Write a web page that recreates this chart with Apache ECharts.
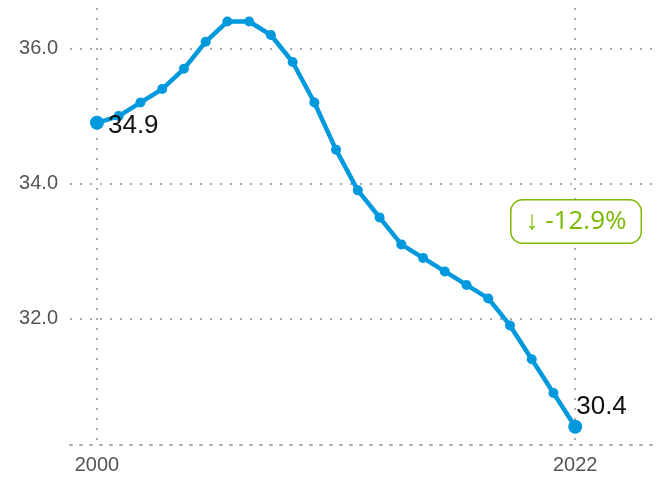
<!DOCTYPE html>
<html>
<head>
<meta charset="utf-8">
<script src="https://cdn.jsdelivr.net/npm/echarts@6/dist/echarts.min.js"></script>
<style>
  html, body { margin: 0; padding: 0; background: #fff; }
  #chart { width: 663px; height: 478px; }
</style>
</head>
<body>
<div id="chart"></div>
<script>
// data
const years = [2000, 2001, 2002, 2003, 2004, 2005, 2006, 2007, 2008, 2009, 2010,
  2011, 2012, 2013, 2014, 2015, 2016, 2017, 2018, 2019, 2020, 2021, 2022]
const values = [34.9, 35.0, 35.2, 35.4, 35.7, 36.1, 36.4, 36.4, 36.2, 35.8, 35.2,
  34.5, 33.9, 33.5, 33.1, 32.9, 32.7, 32.5, 32.3, 31.9, 31.4, 30.9, 30.4]
const xTicks = [2000, 2022]
const yTicks = [32, 34, 36]

const first = values[0]
const last = values[values.length - 1]
const change = ((last - first) / first * 100).toFixed(1)

const gridLine = { show: true, lineStyle: { color: '#aaa', type: [2, 8], width: 2 } }

const chart = echarts.init(document.getElementById('chart'))
chart.setOption({
  animation: false,
  grid: { left: 70, right: 3, top: 8, bottom: 33 },
  xAxis: {
    type: 'value',
    min: 1998.76,
    max: 2025.9,
    axisLine: { show: true, lineStyle: { color: '#aaa', type: [2, 8], width: 2 } },
    axisTick: { show: false, customValues: xTicks },
    axisLabel: {
      customValues: xTicks,
      color: '#555',
      fontSize: 20,
      fontFamily: 'Liberation Sans',
      margin: 10,
      formatter: v => String(v)
    },
    splitLine: gridLine
  },
  yAxis: {
    type: 'value',
    min: 30.13,
    max: 36.6,
    axisLine: { show: false },
    axisTick: { show: false, customValues: yTicks },
    axisLabel: {
      customValues: yTicks,
      color: '#555',
      fontSize: 20,
      fontFamily: 'Liberation Sans',
      margin: 12,
      formatter: v => v.toFixed(1)
    },
    splitLine: gridLine
  },
  series: [{
    type: 'line',
    data: years.map((y, i) => {
      const p = { value: [y, values[i]] }
      if (i === 0) {
        p.symbolSize = 14
        p.label = { show: true, position: 'right', offset: [-1, 3], formatter: first.toFixed(1) }
      } else if (i === years.length - 1) {
        p.symbolSize = 14
        p.label = { show: true, position: 'insideBottomLeft', offset: [3, -9], formatter: last.toFixed(1) }
      }
      return p
    }),
    symbol: 'circle',
    symbolSize: 10,
    showAllSymbol: true,
    color: '#0099dd',
    lineStyle: { width: 4.5, color: '#0099dd' },
    label: { show: false, color: '#111', fontSize: 26, fontFamily: 'Liberation Sans' },
    z: 5
  }],
  graphic: [{
    type: 'text',
    left: 510,
    top: 199,
    style: {
      text: '↓ ' + change + '%',
      fill: '#7ab800',
      font: '26px "Open Sans"',
      backgroundColor: '#fff',
      borderColor: '#7ab800',
      borderWidth: 1.5,
      borderRadius: 11,
      padding: [8, 14, 8, 14]
    },
    z: 10
  }]
})
</script>
</body>
</html>
